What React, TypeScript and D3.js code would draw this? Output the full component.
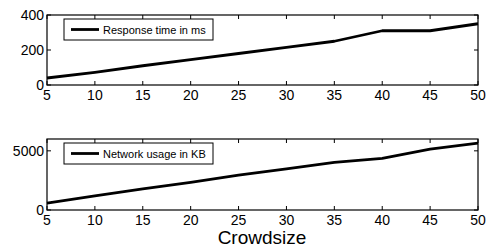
import { useRef, useEffect } from 'react'
import * as d3 from 'd3'

const crowdsize = [5, 10, 15, 20, 25, 30, 35, 40, 45, 50]
const responseTime = [40, 72, 110, 145, 180, 215, 250, 310, 310, 350]
const networkUsage = [590, 1200, 1780, 2340, 2950, 3480, 4030, 4370, 5150, 5660]
const xTicks = [5, 10, 15, 20, 25, 30, 35, 40, 45, 50]
const responseTicks = [0, 200, 400]
const networkTicks = [0, 5000]

const W = 486
const H = 248
const FONT = '"Liberation Sans", Arial, Helvetica, sans-serif'

export default function App() {
  const svgRef = useRef<SVGSVGElement>(null)

  useEffect(() => {
    if (!svgRef.current) return
    const svg = d3.select(svgRef.current)
    svg.selectAll('*').remove()

    const left = 47
    const right = 478
    const x = d3.scaleLinear().domain([5, 50]).range([left, right])

    const panels = [
      { values: responseTime, ticks: responseTicks, domain: [0, 400], top: 15, bottom: 85, label: 'Response time in ms' },
      { values: networkUsage, ticks: networkTicks, domain: [0, 6000], top: 139, bottom: 210, label: 'Network usage in KB' }
    ]

    panels.forEach(p => {
      const y = d3.scaleLinear().domain(p.domain).range([p.bottom, p.top])
      const g = svg.append('g')

      const tl = 4
      xTicks.forEach(t => {
        g.append('line').attr('x1', x(t)).attr('x2', x(t)).attr('y1', p.bottom).attr('y2', p.bottom - tl)
          .attr('stroke', '#000').attr('stroke-width', 1)
        g.append('line').attr('x1', x(t)).attr('x2', x(t)).attr('y1', p.top).attr('y2', p.top + tl)
          .attr('stroke', '#000').attr('stroke-width', 1)
        g.append('text').attr('x', x(t)).attr('y', p.bottom + 15).attr('text-anchor', 'middle')
          .attr('font-family', FONT).attr('font-size', 14).text(t)
      })
      p.ticks.forEach(t => {
        g.append('line').attr('x1', left).attr('x2', left + tl).attr('y1', y(t)).attr('y2', y(t))
          .attr('stroke', '#000').attr('stroke-width', 1)
        g.append('line').attr('x1', right).attr('x2', right - tl).attr('y1', y(t)).attr('y2', y(t))
          .attr('stroke', '#000').attr('stroke-width', 1)
        g.append('text').attr('x', left - 3).attr('y', y(t) + 5).attr('text-anchor', 'end')
          .attr('font-family', FONT).attr('font-size', 14).text(t)
      })

      const line = d3.line<number>()
        .x((_, i) => x(crowdsize[i]))
        .y(d => y(d))
      g.append('path').datum(p.values).attr('d', line).attr('fill', 'none')
        .attr('stroke', '#000').attr('stroke-width', 2.8).attr('stroke-linejoin', 'round')

      g.append('rect').attr('x', left).attr('y', p.top).attr('width', right - left).attr('height', p.bottom - p.top)
        .attr('fill', 'none').attr('stroke', '#000').attr('stroke-width', 1.2)

      // legend
      const lx = 64
      const ly = p.top + 4
      g.append('rect').attr('x', lx).attr('y', ly).attr('width', 149).attr('height', 21)
        .attr('fill', '#fff').attr('stroke', '#000').attr('stroke-width', 1)
      g.append('line').attr('x1', lx + 7).attr('x2', lx + 35).attr('y1', ly + 10.5).attr('y2', ly + 10.5)
        .attr('stroke', '#000').attr('stroke-width', 2.8)
      g.append('text').attr('x', lx + 39).attr('y', ly + 14.5).attr('font-family', FONT)
        .attr('font-size', 11).text(p.label)
    })

    svg.append('text').attr('x', 262).attr('y', 243.9).attr('text-anchor', 'middle')
      .attr('font-family', FONT).attr('font-size', 19).text('Crowdsize')
  }, [])

  return (
    <svg ref={svgRef} width={W} height={H}
      style={{ position: 'absolute', left: 0, top: 0, background: '#fff' }} />
  )
}
